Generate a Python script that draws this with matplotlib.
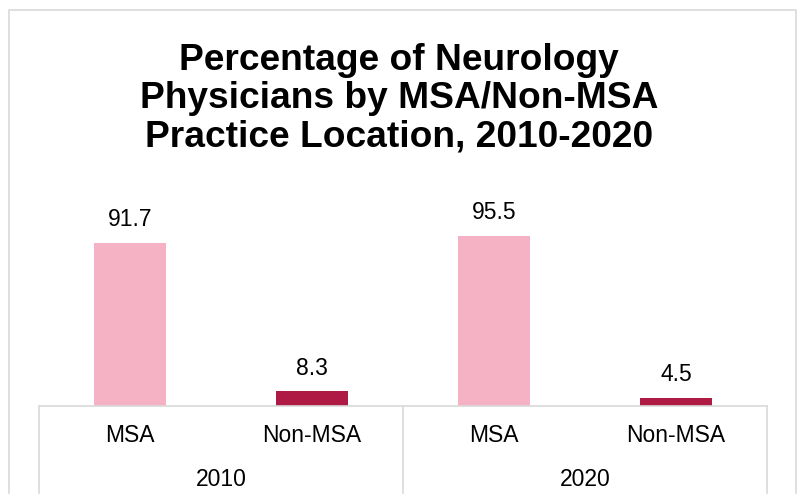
import matplotlib.pyplot as plt
from matplotlib.lines import Line2D

# chart data
years = ['2010', '2020']
locations = ['MSA', 'Non-MSA']
values = [[91.7, 8.3], [95.5, 4.5]]
colors = ['#F4B2C4', '#AF1A45']

plt.rcParams['font.family'] = ['Liberation Sans', 'DejaVu Sans']

fig = plt.figure(figsize=(7.98, 5), dpi=100)
ax = fig.add_axes([39 / 798, 1 - 406 / 500, (767 - 39) / 798, 178 / 500])

grid = '#D9D9D9'

# bars, one slot per (year, location)
x = 0
tick_pos = []
tick_lab = []
for yi, year in enumerate(years):
    for li, loc in enumerate(locations):
        v = values[yi][li]
        ax.bar(x, v, width=0.4, color=colors[li])
        ax.text(x, v + 6.5, f'{v:.1f}', ha='center', va='bottom', fontsize=16.5, clip_on=False)
        tick_pos.append(x)
        tick_lab.append(loc)
        x += 1

ax.set_xlim(-0.5, x - 0.5)
ax.set_ylim(0, 100)
ax.set_yticks([])
ax.set_xticks(tick_pos)
ax.set_xticklabels(tick_lab, fontsize=16.5)
ax.tick_params(axis='x', length=0, pad=13)
for s in ['left', 'right', 'top']:
    ax.spines[s].set_visible(False)
ax.spines['bottom'].set_color(grid)
ax.spines['bottom'].set_linewidth(1.2)

# group labels and separators below the axis
tr = ax.get_xaxis_transform()
n = len(locations)
for yi, year in enumerate(years):
    mid = yi * n + (n - 1) / 2
    ax.text(mid, -73 / 178, year, transform=tr, ha='center', va='center', fontsize=16.5)
for b in range(len(years) + 1):
    ax.add_line(Line2D([b * n - 0.5, b * n - 0.5], [0, -87 / 178], transform=tr,
                       color=grid, lw=1.2, clip_on=False))

# title
fig.text(0.5, 1 - 99 / 500,
         'Percentage of Neurology\nPhysicians by MSA/Non-MSA\nPractice Location, 2010-2020',
         ha='center', va='center', fontsize=26.7, fontweight='bold', linespacing=1.12)

# chart border (open at bottom)
bx0, bx1, by0, by1 = 8.5 / 798, 796 / 798, 1 - 493 / 500, 1 - 10 / 500
fig.add_artist(Line2D([bx0, bx0, bx1, bx1], [by0, by1, by1, by0],
                      transform=fig.transFigure, color=grid, lw=1.2))

fig.savefig('out.png', dpi=100)
